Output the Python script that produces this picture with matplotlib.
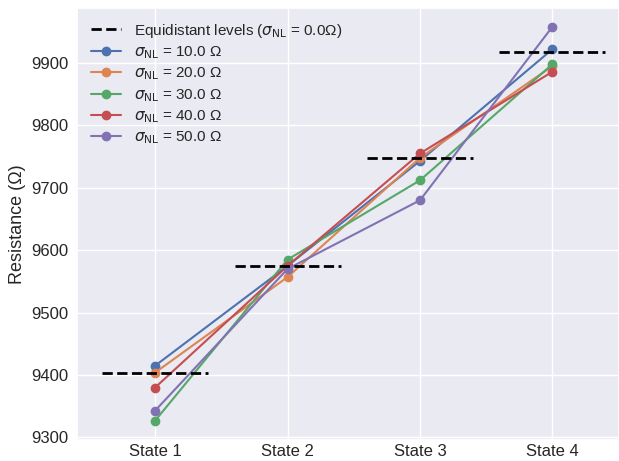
import matplotlib
matplotlib.use("Agg")
import matplotlib.pyplot as plt
import numpy as np
import seaborn as sns

sns.set_theme(style="darkgrid")
plt.rcParams["font.family"] = ["Liberation Sans", "DejaVu Sans"]

states = ["State 1", "State 2", "State 3", "State 4"]
levels = [9403, 9575, 9747, 9918]  # equidistant target levels
sigmas = [10.0, 20.0, 30.0, 40.0, 50.0]
r_sigma10 = [9415, 9575, 9743, 9922]
r_sigma20 = [9404, 9557, 9748, 9895]
r_sigma30 = [9327, 9585, 9712, 9898]
r_sigma40 = [9380, 9575, 9755, 9886]
r_sigma50 = [9343, 9570, 9680, 9958]
series = [r_sigma10, r_sigma20, r_sigma30, r_sigma40, r_sigma50]

x = np.arange(len(states))

fig = plt.figure(figsize=(6.19, 4.61), dpi=100)
ax = fig.add_axes([0.1244, 0.0456, 0.875, 0.937])

# short dashed segment for each ideal level
for i, lv in enumerate(levels):
    ax.plot([x[i] - 0.4, x[i] + 0.4], [lv, lv], color="black", ls="--", lw=2,
            zorder=3,
            label=r"Equidistant levels ($\sigma_{\mathrm{NL}}$ = 0.0Ω)" if i == 0 else None)

colors = sns.color_palette("deep")
for s, vals, c in zip(sigmas, series, colors):
    ax.plot(x, vals, marker="o", ms=6, lw=1.5, color=c,
            label=r"$\sigma_{\mathrm{NL}}$ = " + f"{s:.1f} Ω")

ax.set_xticks(x)
ax.set_xticklabels(states)
ax.tick_params(axis="both", labelsize=12, length=0)
ax.tick_params(axis="x", pad=3)
ax.tick_params(axis="y", pad=6)
ax.set_xlim(-0.59, 3.5)
ax.set_ylim(9296, 9988)
ax.set_ylabel("Resistance (Ω)", fontsize=13)
ax.legend(loc="upper left", frameon=False, fontsize=11, labelspacing=0.3)

fig.savefig("out.png", dpi=100)
